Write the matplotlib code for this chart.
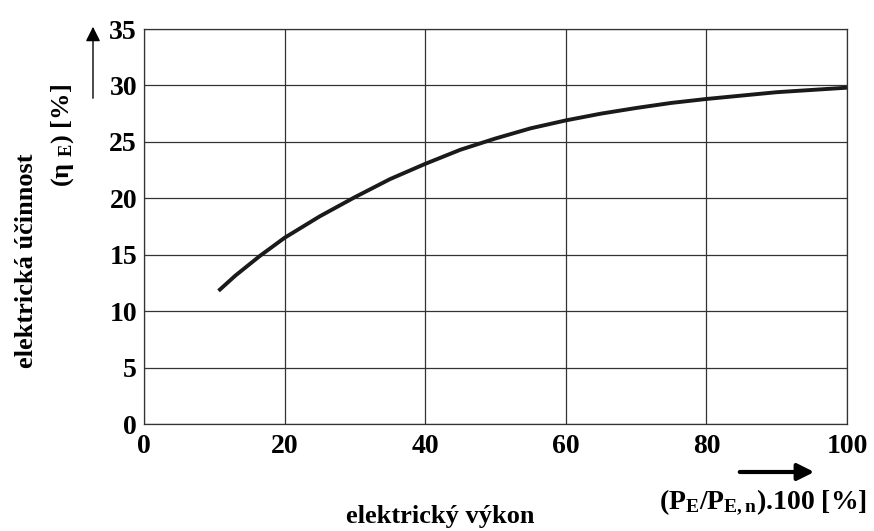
import matplotlib
matplotlib.use('Agg')
import matplotlib.pyplot as plt

vykon = [10.6, 13, 16.5, 20, 25, 30, 35, 40, 45, 50, 55, 60, 65, 70, 75, 80, 85, 90, 95, 100]
ucinnost = [11.8, 13.15, 14.9, 16.5, 18.4, 20.1, 21.7, 23.05, 24.3, 25.3, 26.2, 26.9, 27.5, 28.0, 28.45, 28.8, 29.1, 29.4, 29.6, 29.8]

x_ticks = [0, 20, 40, 60, 80, 100]
y_ticks = [0, 5, 10, 15, 20, 25, 30, 35]

plt.rcParams['font.family'] = ['Liberation Serif', 'DejaVu Serif']
plt.rcParams['font.weight'] = 'bold'
plt.rcParams['mathtext.fontset'] = 'custom'
plt.rcParams['mathtext.rm'] = 'Liberation Serif:bold'
plt.rcParams['mathtext.it'] = 'Liberation Serif:italic:bold'
plt.rcParams['mathtext.bf'] = 'Liberation Serif:bold'

fig = plt.figure(figsize=(8.74, 5.31), dpi=100)
ax = fig.add_axes([144 / 874, 1 - 424 / 531, 703 / 874, 395 / 531])

ax.plot(vykon, ucinnost, color='#1a1a1a', lw=2.8, solid_capstyle='butt', solid_joinstyle='round')

ax.set_xlim(0, 100)
ax.set_ylim(0, 35)
ax.set_xticks(x_ticks)
ax.set_yticks(y_ticks)
ax.grid(True, color='#333333', lw=0.9)
ax.tick_params(length=0, labelsize=20)
ax.tick_params(axis='y', pad=5)
ax.tick_params(axis='x', pad=7)
for lab in ax.get_xticklabels() + ax.get_yticklabels():
    lab.set_fontweight('bold')
for s in ax.spines.values():
    s.set_linewidth(0.9)
    s.set_color('#333333')

# y axis label in two lines + arrow
fig.text(27 / 874, 1 - 261 / 531, 'elektrická účinnost', rotation=90, fontsize=19,
         fontweight='bold', ha='center', va='center')
fig.text(63 / 874, 1 - 136 / 531, '(η $_{\\mathrm{E}}$) [%]', rotation=90,
         fontsize=19, fontweight='bold', ha='center', va='center')
ax.annotate('', xy=(93 / 874, 1 - 24 / 531), xytext=(93 / 874, 1 - 101 / 531),
            xycoords='figure fraction', textcoords='figure fraction',
            arrowprops=dict(arrowstyle='-|>', color='black', lw=1.0, mutation_scale=22))

# x axis label + arrow
fig.text(440 / 874, 1 - 517 / 531, 'elektrický výkon', fontsize=19,
         fontweight='bold', ha='center', va='center')
fig.text(763 / 874, 1 - 502 / 531, r'(P$_{\mathrm{E}}$/P$_{\mathrm{E,n}}$).100 [%]', fontsize=20,
         fontweight='bold', ha='center', va='center')
ax.annotate('', xy=(817 / 874, 1 - 472 / 531), xytext=(737 / 874, 1 - 472 / 531),
            xycoords='figure fraction', textcoords='figure fraction',
            arrowprops=dict(arrowstyle='-|>', color='black', lw=3.0, mutation_scale=25))

plt.savefig('out.png', dpi=100)
plt.close()
